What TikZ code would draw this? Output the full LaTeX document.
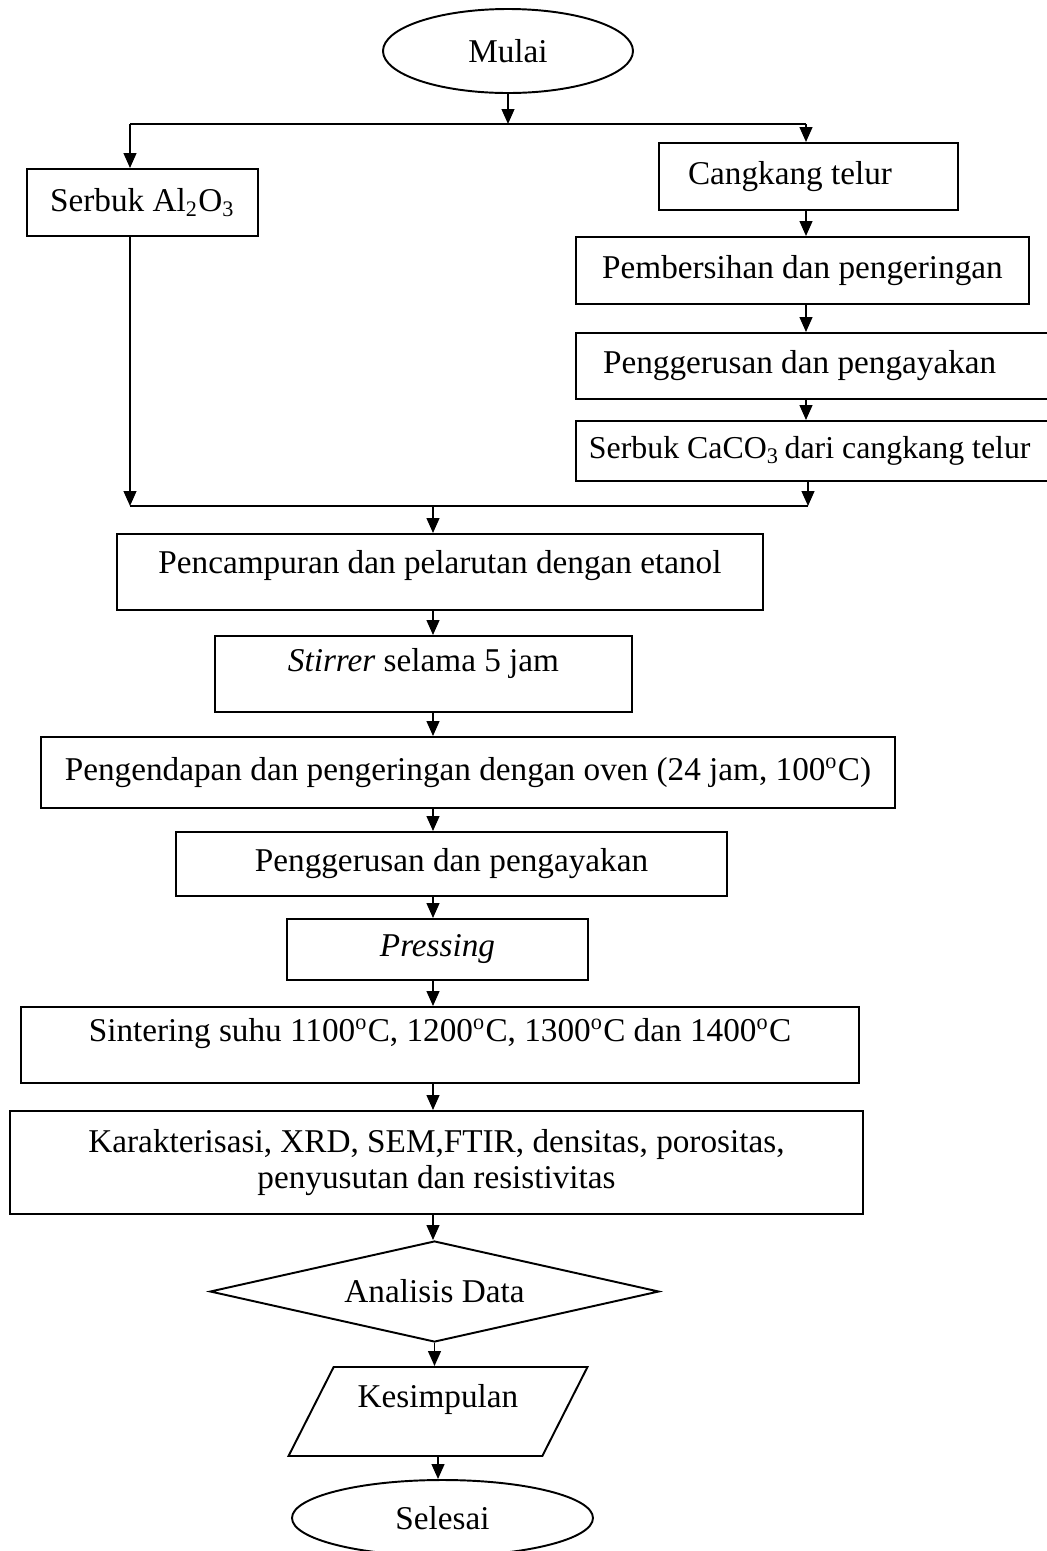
\documentclass[tikz,border=0pt]{standalone}
\usepackage{fontspec}
\setmainfont{Liberation Serif}
\usetikzlibrary{arrows.meta,shapes.geometric}

\begin{document}
\begin{tikzpicture}[x=0.361pt,y=-0.361pt,line width=0.7pt,
	every node/.style={font=\fontsize{12}{13}\selectfont},
	box/.style 2 args={draw,rectangle,inner sep=2pt,minimum width=#1*0.361pt,minimum height=#2*0.361pt},
	oval/.style 2 args={draw,ellipse,inner sep=0pt,minimum width=#1*0.361pt,minimum height=#2*0.361pt},
	lift/.style={text height=8pt,text depth=#1},
	arr/.style={-{Triangle[length=5.4pt,width=4.6pt]}}]
	\useasboundingbox (0,0) rectangle (1046,1551);
	% start and the two branches
	\node[oval={250}{84}] (mulai) at (508,51) {Mulai};
	\node[box={231}{67}] (al) at (142.5,202.5) {Serbuk Al\textsubscript{2}O\textsubscript{3}};
	\node[box={299}{67},inner xsep=10.5pt] (cang) at (808.5,176.5) {\makebox[87pt][l]{Cangkang telur}};
	\node[box={453}{67}] (bersih) at (802.5,270.5) {Pembersihan dan pengeringan};
	\node[box={476}{66},inner xsep=9.75pt] (gerusa) at (814,366) {\makebox[152.3pt][l]{Penggerusan dan pengayakan}};
	\node[box={476}{60},inner xsep=4.6pt,font=\fontsize{11.5}{13}\selectfont] (caco) at (814,451) {\makebox[162.5pt][l]{Serbuk CaCO\textsubscript{3}\,dari cangkang telur}};
	% main column
	\node[box={646}{76},lift=6.6pt] (campur) at (440,572) {Pencampuran dan pelarutan dengan etanol};
	\node[box={417}{76},lift=9.6pt] (stirrer) at (423.5,674) {\textit{Stirrer} selama 5 jam};
	\node[box={854}{71}] (endap) at (468,772.5) {Pengendapan dan pengeringan dengan oven (24 jam, 100\textsuperscript{o}C)};
	\node[box={551}{64}] (gerusb) at (451.5,864) {Penggerusan dan pengayakan};
	\node[box={301}{61}] (press) at (437.5,949.5) {\textit{Pressing}};
	\node[box={838}{76},lift=10.2pt] (sinter) at (440,1045) {Sintering suhu 1100\textsuperscript{o}C, 1200\textsuperscript{o}C, 1300\textsuperscript{o}C dan 1400\textsuperscript{o}C};
	\node[box={853}{103},align=center] (karak) at (436.5,1162.5) {Karakterisasi, XRD, SEM,FTIR, densitas, porositas,\\ penyusutan dan resistivitas};
	\node[draw,diamond,aspect=4.4,inner sep=0pt,minimum width=449*0.361pt,minimum height=101*0.361pt] (analisis) at (434.5,1291.5) {Analisis Data};
	\node[draw,trapezium,trapezium left angle=56,trapezium right angle=124,trapezium stretches=true,
		inner sep=0pt,minimum width=300*0.361pt,minimum height=89*0.361pt,lift=10.6pt] (simpul) at (438,1411.5) {Kesimpulan};
	\node[oval={301}{76}] (selesai) at (442.5,1518) {Selesai};
	% connectors
	\coordinate (split) at (508,124);
	\coordinate (splitL) at (130,124);
	\coordinate (splitR) at (806,124);
	\coordinate (joinL) at (130,506);
	\coordinate (joinR) at (808,506);
	\coordinate (join) at (433,506);
	\draw[arr] (mulai) -- (split);
	\draw (splitL) -- (splitR);
	\draw[arr] (splitL) -- (al.north -| splitL);
	\draw[arr] (splitR) -- (cang.north -| splitR);
	\foreach \a/\b in {cang/bersih,bersih/gerusa,gerusa/caco}
		\draw[arr] (\a.south -| splitR) -- (\b.north -| splitR);
	\draw[arr] (al.south -| joinL) -- (joinL);
	\draw[arr] (caco.south -| joinR) -- (joinR);
	\draw (joinL) -- (joinR);
	\draw[arr] (join) -- (campur.north -| join);
	\foreach \a/\b in {campur/stirrer,stirrer/endap,endap/gerusb,gerusb/press,press/sinter,sinter/karak,karak/analisis}
		\draw[arr] (\a.south -| join) -- (\b.north -| join);
	\draw[arr] (analisis.south) -- (analisis.south |- simpul.north);
	\draw[arr] (simpul.south) -- (simpul.south |- selesai.north);
\end{tikzpicture}
\end{document}
